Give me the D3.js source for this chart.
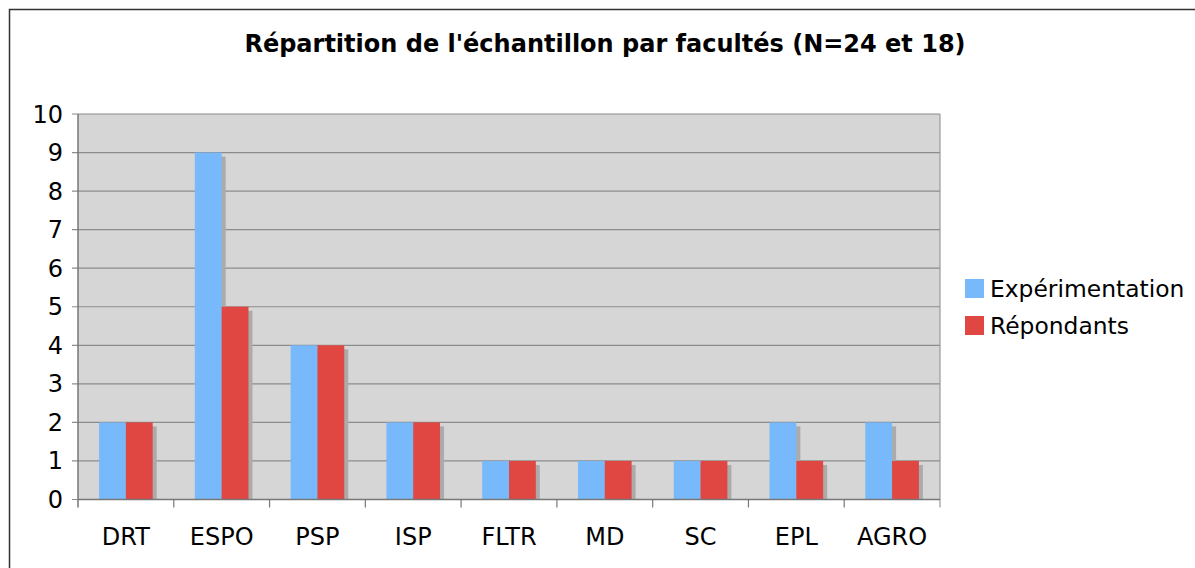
<!DOCTYPE html>
<html lang="fr">
<head>
<meta charset="UTF-8">
<title>Répartition de l'échantillon par facultés</title>
<script src="https://d3js.org/d3.v7.min.js"></script>
<style>
    body { margin: 0; background: #fff; }
    svg { display: block; font-family: "DejaVu Sans", Verdana, sans-serif; }
</style>
</head>
<body>
<div id="chart"></div>
<script>
    // données
    const facultes = ["DRT", "ESPO", "PSP", "ISP", "FLTR", "MD", "SC", "EPL", "AGRO"];
    const series = ["Expérimentation", "Répondants"];
    const experimentation = [2, 9, 4, 2, 1, 1, 1, 2, 2];
    const repondants = [2, 5, 4, 2, 1, 1, 1, 1, 1];
    const yTicks = [0, 1, 2, 3, 4, 5, 6, 7, 8, 9, 10];
    const couleurs = ["#77b9fb", "#e04642"];

    const width = 1195, height = 568;
    const plot = { left: 78, right: 940, top: 114, bottom: 499.5 };

    const svg = d3.select("#chart").append("svg")
        .attr("width", width)
        .attr("height", height);

    // cadre extérieur
    svg.append("rect")
        .attr("x", 9.5).attr("y", 9.5)
        .attr("width", width).attr("height", height)
        .attr("fill", "none")
        .attr("stroke", "#333")
        .attr("stroke-width", 1.5);

    svg.append("text")
        .attr("x", 605).attr("y", 52)
        .attr("text-anchor", "middle")
        .attr("font-size", 24)
        .attr("font-weight", "bold")
        .text("Répartition de l'échantillon par facultés (N=24 et 18)");

    const x0 = d3.scaleBand().domain(facultes).range([plot.left, plot.right]);
    const x1 = d3.scaleBand().domain(series)
        .range([x0.bandwidth() * 0.22, x0.bandwidth() * 0.78]);
    const y = d3.scaleLinear().domain([0, 10]).range([plot.bottom, plot.top]);

    // fond gris
    svg.append("rect")
        .attr("x", plot.left).attr("y", plot.top)
        .attr("width", plot.right - plot.left)
        .attr("height", plot.bottom - plot.top)
        .attr("fill", "#d6d6d6");

    // grille
    svg.append("g").selectAll("line")
        .data(yTicks)
        .join("line")
        .attr("x1", plot.left - 6).attr("x2", plot.right)
        .attr("y1", d => y(d)).attr("y2", d => y(d))
        .attr("stroke", "#8c8c8c")
        .attr("stroke-width", 1.2);

    const rows = facultes.map((f, i) => ({ fac: f, values: [experimentation[i], repondants[i]] }));

    const groups = svg.append("g").selectAll("g")
        .data(rows)
        .join("g")
        .attr("transform", d => `translate(${x0(d.fac)},0)`);

    // ombres
    groups.selectAll("rect.ombre")
        .data(d => d.values.map((v, j) => ({ s: series[j], v })))
        .join("rect")
        .attr("class", "ombre")
        .attr("x", d => x1(d.s) + 4)
        .attr("y", d => y(d.v) + 4)
        .attr("width", x1.bandwidth())
        .attr("height", d => plot.bottom - y(d.v) - 4)
        .attr("fill", "#ababab");

    groups.selectAll("rect.barre")
        .data(d => d.values.map((v, j) => ({ s: series[j], v, j })))
        .join("rect")
        .attr("class", "barre")
        .attr("x", d => x1(d.s))
        .attr("y", d => y(d.v))
        .attr("width", x1.bandwidth())
        .attr("height", d => plot.bottom - y(d.v))
        .attr("fill", d => couleurs[d.j]);

    // axes
    svg.append("line")
        .attr("x1", plot.left).attr("x2", plot.left)
        .attr("y1", plot.top).attr("y2", plot.bottom + 8)
        .attr("stroke", "#777").attr("stroke-width", 1.5);
    svg.append("line")
        .attr("x1", plot.right).attr("x2", plot.right)
        .attr("y1", plot.top).attr("y2", plot.bottom + 8)
        .attr("stroke", "#999").attr("stroke-width", 1.2);
    svg.append("line")
        .attr("x1", plot.left).attr("x2", plot.right)
        .attr("y1", plot.bottom).attr("y2", plot.bottom)
        .attr("stroke", "#777").attr("stroke-width", 1.5);

    svg.append("g").selectAll("line")
        .data(facultes.slice(1))
        .join("line")
        .attr("x1", d => x0(d)).attr("x2", d => x0(d))
        .attr("y1", plot.bottom).attr("y2", plot.bottom + 8)
        .attr("stroke", "#777").attr("stroke-width", 1.2);

    svg.append("g").selectAll("text")
        .data(yTicks)
        .join("text")
        .attr("x", 63)
        .attr("y", d => y(d) + 8.5)
        .attr("text-anchor", "end")
        .attr("font-size", 24)
        .text(d => d);

    svg.append("g").selectAll("text")
        .data(facultes)
        .join("text")
        .attr("x", d => x0(d) + x0.bandwidth() / 2)
        .attr("y", 545)
        .attr("text-anchor", "middle")
        .attr("font-size", 24)
        .text(d => d);

    // légende
    const legend = svg.append("g")
        .attr("transform", "translate(965,279)");
    const items = legend.selectAll("g")
        .data(series)
        .join("g")
        .attr("transform", (d, i) => `translate(0,${i * 37})`);
    items.append("rect")
        .attr("width", 19).attr("height", 19)
        .attr("fill", (d, i) => couleurs[i]);
    items.append("text")
        .attr("x", 25).attr("y", 18)
        .attr("font-size", 23.4)
        .text(d => d);
</script>
</body>
</html>
